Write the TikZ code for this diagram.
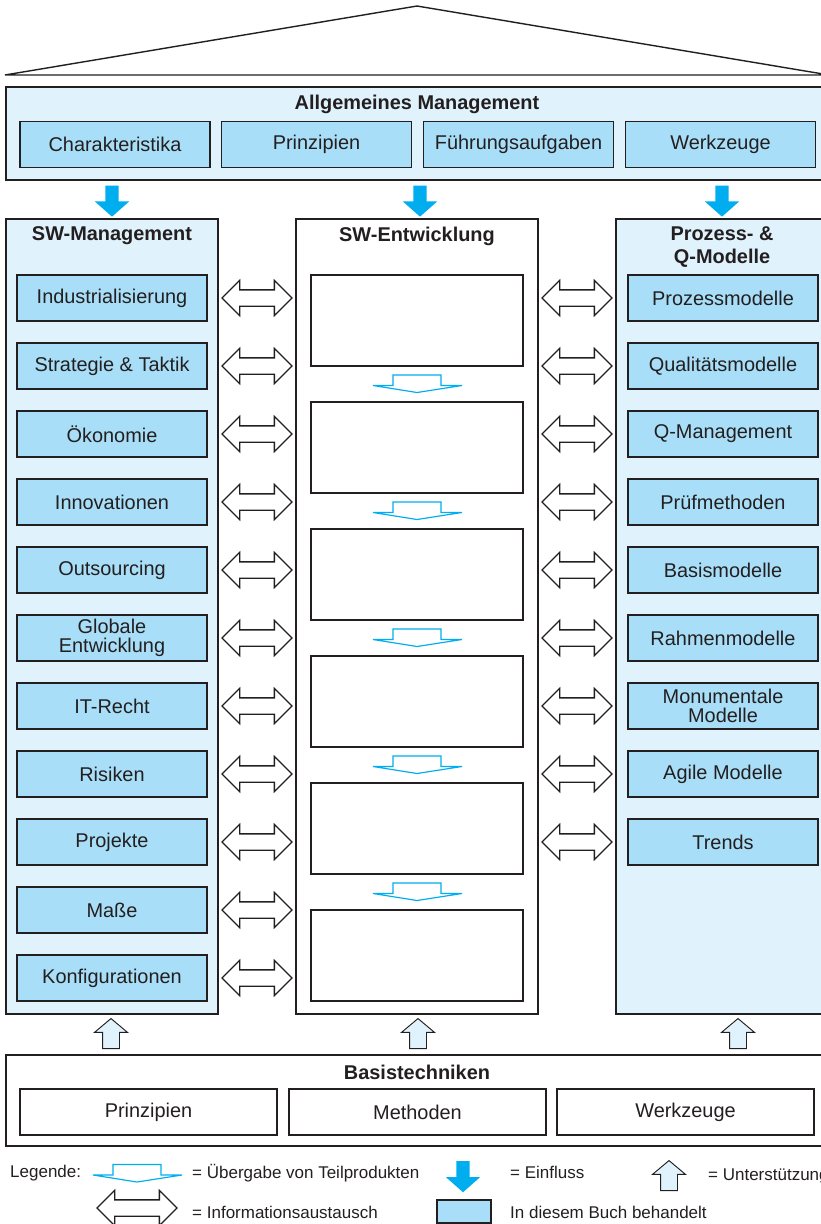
\documentclass[tikz,border=0pt]{standalone}
\usepackage{fontspec}
\setmainfont{Liberation Sans}
\usetikzlibrary{shapes.arrows,calc}
\definecolor{hausbg}{RGB}{224,242,252}
\definecolor{buchblau}{RGB}{168,222,247}
\definecolor{einflussblau}{RGB}{0,174,239}
\definecolor{strich}{RGB}{35,31,32}

\begin{document}
\begin{tikzpicture}[x=0.03cm, y=-0.03cm,
  every node/.style={text=strich, font=\fontsize{17}{16}\selectfont},
  saeule/.style={draw=strich, line width=1.2pt, minimum height=23.85cm},
  titel/.style={font=\fontsize{17}{19}\selectfont\bfseries, align=center},
  buchbox/.style={draw=strich, line width=1.5pt, fill=buchblau, minimum width=5.7cm, minimum height=1.38cm, align=center, inner sep=0pt},
  leerbox/.style={draw=strich, line width=1.5pt, fill=white, minimum width=6.36cm, minimum height=2.73cm},
  basisbox/.style={draw=strich, line width=1.5pt, fill=white, minimum width=7.71cm, minimum height=1.38cm},
  info/.style={double arrow, draw=strich, line width=1.1pt, fill=white, minimum height=2.1cm, minimum width=1.02cm, double arrow head extend=0.285cm, inner xsep=0pt, inner ysep=0.225cm},
  einfluss/.style={single arrow, fill=einflussblau, minimum height=0.93cm, minimum width=1.02cm, single arrow head extend=0.315cm, single arrow tip angle=97, inner xsep=0pt, inner ysep=0.195cm, rotate=-90, anchor=tail},
  stuetze/.style={single arrow, draw=strich, line width=0.8pt, fill=hausbg, minimum height=0.9cm, minimum width=0.96cm, single arrow head extend=0.24cm, single arrow tip angle=100, inner xsep=0pt, inner ysep=0.24cm, rotate=90, anchor=tail},
  uebergabe/.style={draw=einflussblau, line width=1pt, fill=white},
  legende/.style={font=\fontsize{14.5}{16}\selectfont, anchor=west, inner sep=0pt}
]
  \useasboundingbox (0,0) rectangle (821,1224);

  % Dach
  \draw[strich, line width=1.2pt] (5,75) -- (417,6) -- (829,75) -- cycle;

  % Allgemeines Management
  \node[draw=strich, line width=2.4pt, fill=hausbg, minimum width=24.69cm, minimum height=2.79cm] (allg) at (417.5,133.5) {};
  \node[titel] (allgt) at (417,104) {Allgemeines Management};
  \node[buchbox] (a1) at (115,144.5) {Charakteristika};
  \node[buchbox] (a2) at (316.5,144.5) {Prinzipien};
  \node[buchbox] (a3) at (518.5,144.5) {Führungsaufgaben};
  \node[buchbox] (a4) at (720.5,144.5) {Werkzeuge};

  % Saeulen
  \node[saeule, fill=hausbg, minimum width=6.36cm] (swm) at (112,616.5) {};
  \node[saeule, fill=white, minimum width=7.26cm] (ent) at (417,616.5) {};
  \node[saeule, fill=hausbg, minimum width=6.36cm] (pqm) at (722,616.5) {};
  \node[titel] (swmt) at (112,236) {SW-Management};
  \node[titel] (entt) at (417,236) {SW-Entwicklung};
  \node[titel] (pqmt) at (722,247) {Prozess- \&\\Q-Modelle};

  \node[einfluss] (ea1) at ($(allg.south -| swm.north)+(0,4)$) {};
  \node[einfluss] (ea2) at ($(allg.south -| ent.north)+(3,4)$) {};
  \node[einfluss] (ea3) at ($(allg.south -| pqm.north)+(0,4)$) {};

  % SW-Management
  \node[buchbox] (l1) at (112,298) {Industrialisierung};
  \node[buchbox] (l2) at (112,366) {Strategie \& Taktik};
  \node[buchbox] (l3) at (112,434) {Ökonomie};
  \node[buchbox] (l4) at (112,502) {Innovationen};
  \node[buchbox] (l5) at (112,570) {Outsourcing};
  \node[buchbox] (l6) at (112,638) {Globale\\Entwicklung};
  \node[buchbox] (l7) at (112,706) {IT-Recht};
  \node[buchbox] (l8) at (112,774) {Risiken};
  \node[buchbox] (l9) at (112,842) {Projekte};
  \node[buchbox] (l10) at (112,910) {Maße};
  \node[buchbox] (l11) at (112,978) {Konfigurationen};

  % Prozess- & Q-Modelle
  \node[buchbox] (r1) at (723,298) {Prozessmodelle};
  \node[buchbox] (r2) at (723,366) {Qualitätsmodelle};
  \node[buchbox] (r3) at (723,434) {Q-Management};
  \node[buchbox] (r4) at (723,502) {Prüfmethoden};
  \node[buchbox] (r5) at (723,570) {Basismodelle};
  \node[buchbox] (r6) at (723,638) {Rahmenmodelle};
  \node[buchbox] (r7) at (723,706) {Monumentale\\Modelle};
  \node[buchbox] (r8) at (723,774) {Agile Modelle};
  \node[buchbox] (r9) at (723,842) {Trends};

  % SW-Entwicklung
  \node[leerbox] (e1) at (417,320.5) {};
  \node[leerbox] (e2) at (417,447.5) {};
  \node[leerbox] (e3) at (417,574.5) {};
  \node[leerbox] (e4) at (417,701.5) {};
  \node[leerbox] (e5) at (417,828.5) {};
  \node[leerbox] (e6) at (417,955.5) {};

  \draw[uebergabe, shift={($(e1.south)!.5!(e2.north)$)}] (-44,1.5) -- (-24,1.5) -- (-24,-9) -- (24,-9) -- (24,1.5) -- (45,1.5) -- (0,8.5) -- cycle;
  \draw[uebergabe, shift={($(e2.south)!.5!(e3.north)$)}] (-44,1.5) -- (-24,1.5) -- (-24,-9) -- (24,-9) -- (24,1.5) -- (45,1.5) -- (0,8.5) -- cycle;
  \draw[uebergabe, shift={($(e3.south)!.5!(e4.north)$)}] (-44,1.5) -- (-24,1.5) -- (-24,-9) -- (24,-9) -- (24,1.5) -- (45,1.5) -- (0,8.5) -- cycle;
  \draw[uebergabe, shift={($(e4.south)!.5!(e5.north)$)}] (-44,1.5) -- (-24,1.5) -- (-24,-9) -- (24,-9) -- (24,1.5) -- (45,1.5) -- (0,8.5) -- cycle;
  \draw[uebergabe, shift={($(e5.south)!.5!(e6.north)$)}] (-44,1.5) -- (-24,1.5) -- (-24,-9) -- (24,-9) -- (24,1.5) -- (45,1.5) -- (0,8.5) -- cycle;

  % Informationsaustausch links
  \node[info] (il1) at ($(swm.east |- l1)!.5!(ent.west |- l1)$) {};
  \node[info] (il2) at ($(swm.east |- l2)!.5!(ent.west |- l2)$) {};
  \node[info] (il3) at ($(swm.east |- l3)!.5!(ent.west |- l3)$) {};
  \node[info] (il4) at ($(swm.east |- l4)!.5!(ent.west |- l4)$) {};
  \node[info] (il5) at ($(swm.east |- l5)!.5!(ent.west |- l5)$) {};
  \node[info] (il6) at ($(swm.east |- l6)!.5!(ent.west |- l6)$) {};
  \node[info] (il7) at ($(swm.east |- l7)!.5!(ent.west |- l7)$) {};
  \node[info] (il8) at ($(swm.east |- l8)!.5!(ent.west |- l8)$) {};
  \node[info] (il9) at ($(swm.east |- l9)!.5!(ent.west |- l9)$) {};
  \node[info] (il10) at ($(swm.east |- l10)!.5!(ent.west |- l10)$) {};
  \node[info] (il11) at ($(swm.east |- l11)!.5!(ent.west |- l11)$) {};

  % Informationsaustausch rechts
  \node[info] (ir1) at ($(ent.east |- r1)!.5!(pqm.west |- r1)$) {};
  \node[info] (ir2) at ($(ent.east |- r2)!.5!(pqm.west |- r2)$) {};
  \node[info] (ir3) at ($(ent.east |- r3)!.5!(pqm.west |- r3)$) {};
  \node[info] (ir4) at ($(ent.east |- r4)!.5!(pqm.west |- r4)$) {};
  \node[info] (ir5) at ($(ent.east |- r5)!.5!(pqm.west |- r5)$) {};
  \node[info] (ir6) at ($(ent.east |- r6)!.5!(pqm.west |- r6)$) {};
  \node[info] (ir7) at ($(ent.east |- r7)!.5!(pqm.west |- r7)$) {};
  \node[info] (ir8) at ($(ent.east |- r8)!.5!(pqm.west |- r8)$) {};
  \node[info] (ir9) at ($(ent.east |- r9)!.5!(pqm.west |- r9)$) {};

  % Basistechniken
  \node[stuetze] (us1) at (111,1049) {};
  \node[stuetze] (us2) at (418,1049) {};
  \node[stuetze] (us3) at (738,1049) {};
  \node[draw=strich, line width=1.2pt, fill=white, minimum width=24.69cm, minimum height=2.73cm] (basis) at (417.5,1100.5) {};
  \node[titel] (basist) at (417,1072) {Basistechniken};
  \node[basisbox] (b1) at (148.5,1112) {Prinzipien};
  \node[basisbox] (b2) at (417.5,1112) {Methoden};
  \node[basisbox] (b3) at (685.5,1112) {Werkzeuge};

  % Legende
  \node[legende] (leg) at (10,1173) {Legende:};
  \draw[uebergabe, shift={(137,1173.5)}] (-44,1.5) -- (-24,1.5) -- (-24,-9) -- (24,-9) -- (24,1.5) -- (45,1.5) -- (0,8.5) -- cycle;
  \node[legende] (lg1) at (192,1173) {= Übergabe von Teilprodukten};
  \node[einfluss] (lgea) at (463,1161) {};
  \node[legende] (lg2) at (510,1172) {= Einfluss};
  \node[stuetze] (lgus) at (669,1191) {};
  \node[legende] (lg3) at (708,1176) {= Unterstützung};
  \node[info, minimum height=2.4cm] (lgi) at (137,1208) {};
  \node[legende] (lg4) at (192,1212) {= Informationsaustausch};
  \node[draw=strich, line width=1.2pt, fill=buchblau, minimum width=1.62cm, minimum height=0.69cm] (lgbox) at (464,1211.5) {};
  \node[legende] (lg5) at (510,1212) {In diesem Buch behandelt};
\end{tikzpicture}
\end{document}
